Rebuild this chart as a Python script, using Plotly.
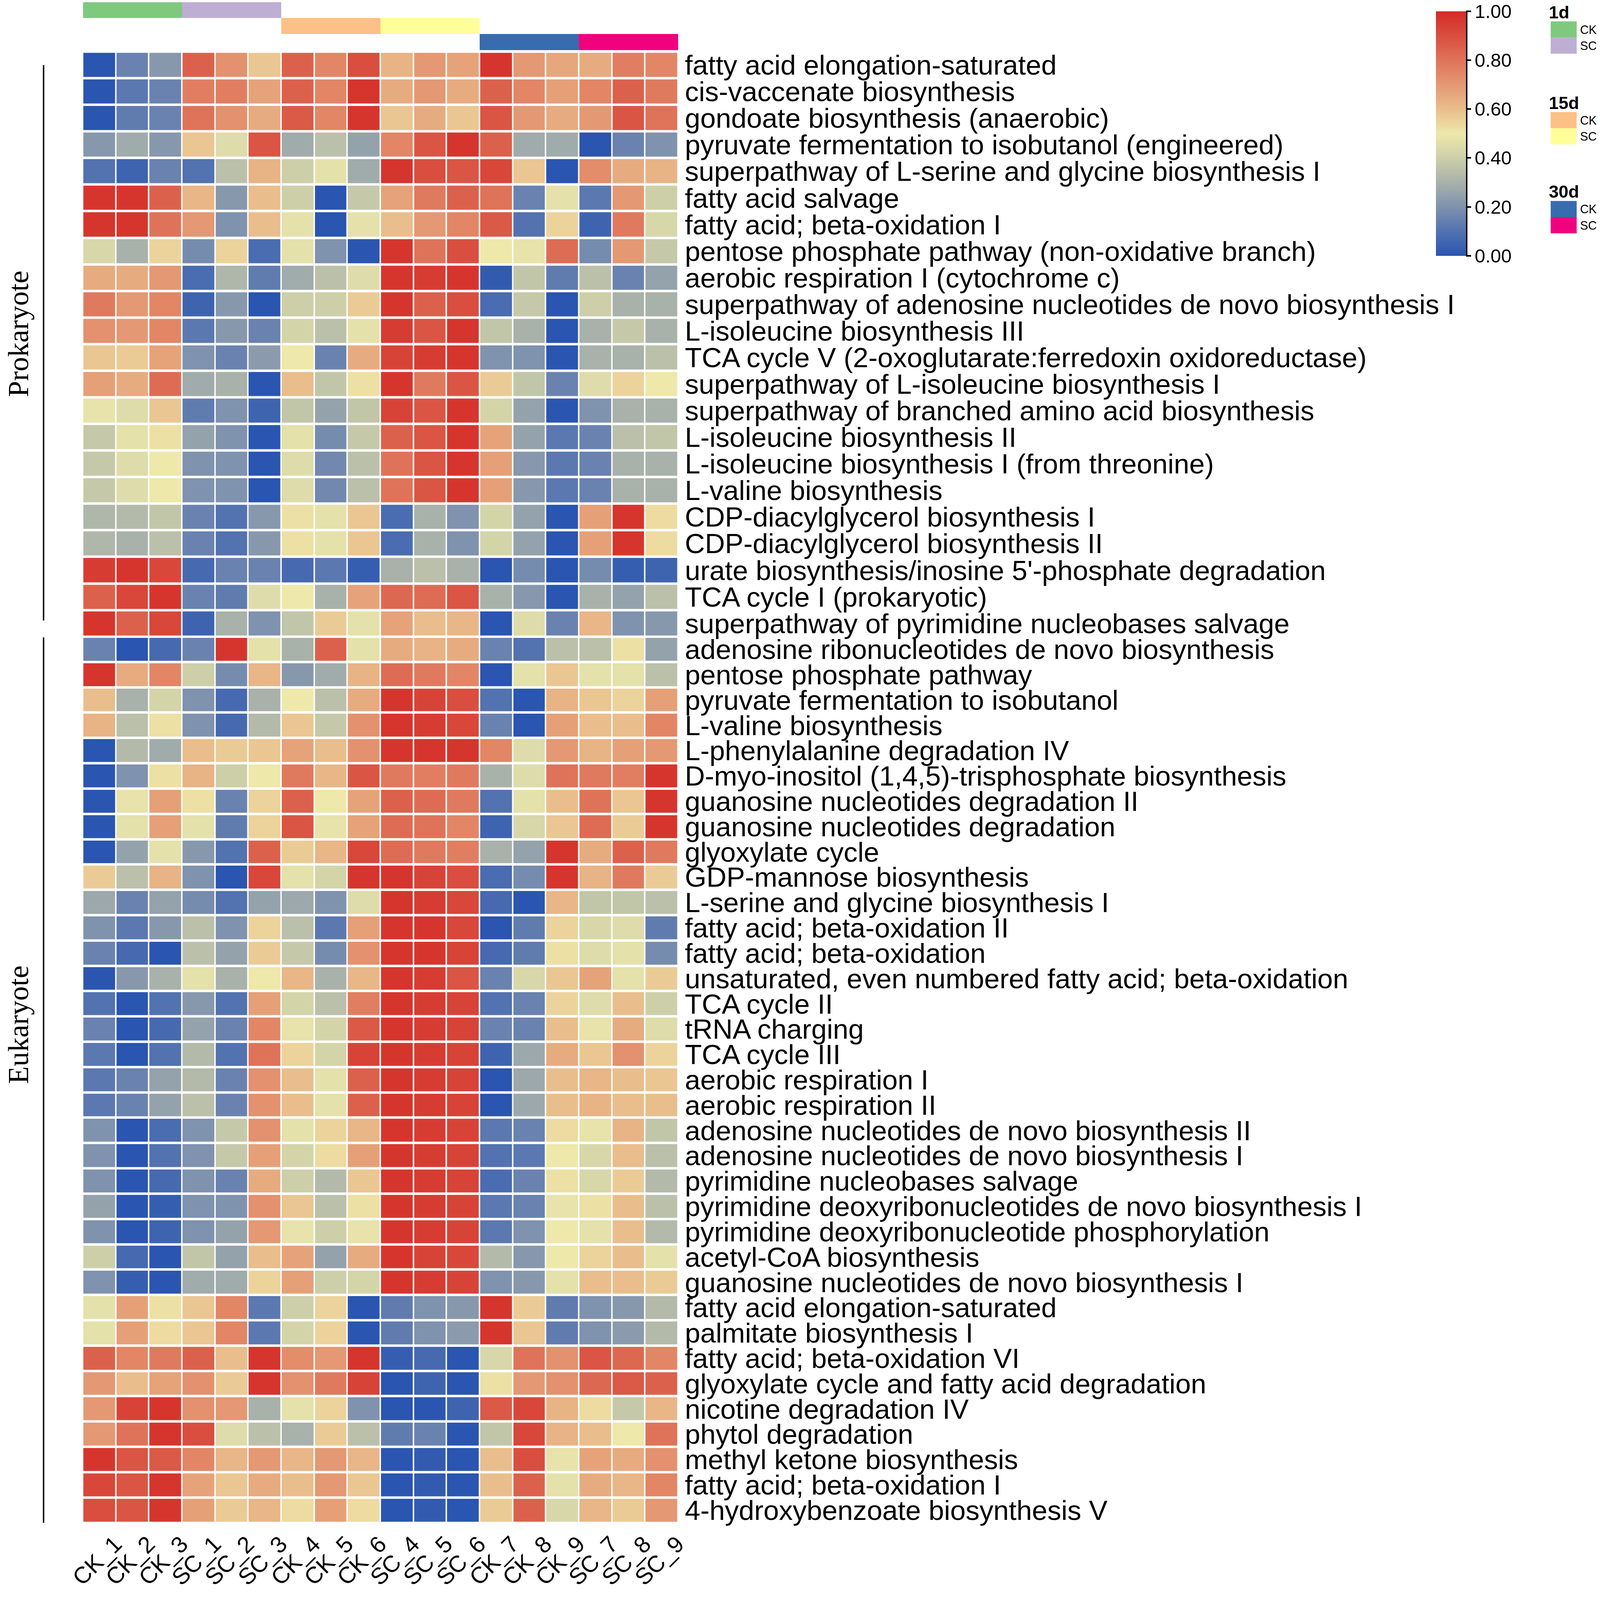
import plotly.graph_objects as go

# ---------------- data ----------------
samples = ["CK_1", "CK_2", "CK_3", "SC_1", "SC_2", "SC_3",
           "CK_4", "CK_5", "CK_6", "SC_4", "SC_5", "SC_6",
           "CK_7", "CK_8", "CK_9", "SC_7", "SC_8", "SC_9"]

prok_pathways = [
    "fatty acid elongation-saturated",
    "cis-vaccenate biosynthesis",
    "gondoate biosynthesis (anaerobic)",
    "pyruvate fermentation to isobutanol (engineered)",
    "superpathway of L-serine and glycine biosynthesis I",
    "fatty acid salvage",
    "fatty acid; beta-oxidation I",
    "pentose phosphate pathway (non-oxidative branch)",
    "aerobic respiration I (cytochrome c)",
    "superpathway of adenosine nucleotides de novo biosynthesis I",
    "L-isoleucine biosynthesis III",
    "TCA cycle V (2-oxoglutarate:ferredoxin oxidoreductase)",
    "superpathway of L-isoleucine biosynthesis I",
    "superpathway of branched amino acid biosynthesis",
    "L-isoleucine biosynthesis II",
    "L-isoleucine biosynthesis I (from threonine)",
    "L-valine biosynthesis",
    "CDP-diacylglycerol biosynthesis I",
    "CDP-diacylglycerol biosynthesis II",
    "urate biosynthesis/inosine 5'-phosphate degradation",
    "TCA cycle I (prokaryotic)",
    "superpathway of pyrimidine nucleobases salvage",
]

prok_values = [
    [0.00, 0.15, 0.22, 0.85, 0.72, 0.58, 0.85, 0.75, 0.90, 0.63, 0.70, 0.67, 0.97, 0.70, 0.66, 0.65, 0.77, 0.75],
    [0.00, 0.12, 0.15, 0.77, 0.77, 0.67, 0.85, 0.75, 0.97, 0.65, 0.70, 0.65, 0.85, 0.75, 0.68, 0.75, 0.85, 0.78],
    [0.00, 0.13, 0.15, 0.80, 0.72, 0.65, 0.87, 0.75, 0.97, 0.58, 0.65, 0.58, 0.88, 0.70, 0.65, 0.70, 0.88, 0.80],
    [0.22, 0.28, 0.22, 0.58, 0.45, 0.88, 0.28, 0.35, 0.25, 0.75, 0.88, 0.97, 0.85, 0.28, 0.28, 0.00, 0.15, 0.20],
    [0.10, 0.05, 0.15, 0.10, 0.35, 0.63, 0.40, 0.47, 0.28, 0.97, 0.90, 0.88, 0.92, 0.58, 0.00, 0.73, 0.65, 0.63],
    [0.97, 0.97, 0.85, 0.62, 0.22, 0.60, 0.40, 0.00, 0.38, 0.67, 0.78, 0.85, 0.80, 0.15, 0.47, 0.12, 0.70, 0.40],
    [0.97, 0.97, 0.80, 0.70, 0.20, 0.60, 0.47, 0.00, 0.47, 0.60, 0.70, 0.75, 0.87, 0.10, 0.55, 0.05, 0.78, 0.43],
    [0.43, 0.30, 0.55, 0.18, 0.55, 0.08, 0.47, 0.20, 0.00, 0.97, 0.80, 0.90, 0.50, 0.48, 0.82, 0.18, 0.70, 0.38],
    [0.65, 0.65, 0.70, 0.08, 0.32, 0.13, 0.28, 0.35, 0.45, 0.97, 0.95, 0.97, 0.02, 0.37, 0.13, 0.35, 0.15, 0.25],
    [0.78, 0.70, 0.75, 0.05, 0.22, 0.00, 0.40, 0.40, 0.57, 0.97, 0.85, 0.90, 0.08, 0.38, 0.00, 0.40, 0.30, 0.30],
    [0.72, 0.70, 0.75, 0.12, 0.22, 0.15, 0.42, 0.35, 0.47, 0.95, 0.88, 0.97, 0.37, 0.30, 0.00, 0.30, 0.38, 0.30],
    [0.58, 0.57, 0.67, 0.20, 0.15, 0.23, 0.50, 0.15, 0.65, 0.93, 0.95, 0.97, 0.20, 0.20, 0.00, 0.30, 0.30, 0.35],
    [0.68, 0.65, 0.82, 0.28, 0.30, 0.00, 0.60, 0.37, 0.52, 0.97, 0.78, 0.88, 0.57, 0.37, 0.15, 0.45, 0.55, 0.50],
    [0.48, 0.45, 0.58, 0.13, 0.20, 0.05, 0.37, 0.25, 0.37, 0.93, 0.88, 0.97, 0.42, 0.25, 0.00, 0.20, 0.30, 0.30],
    [0.38, 0.47, 0.52, 0.25, 0.20, 0.00, 0.47, 0.18, 0.38, 0.85, 0.88, 0.97, 0.67, 0.25, 0.12, 0.15, 0.35, 0.37],
    [0.38, 0.45, 0.50, 0.20, 0.20, 0.00, 0.45, 0.17, 0.35, 0.80, 0.88, 0.97, 0.68, 0.22, 0.12, 0.15, 0.30, 0.30],
    [0.38, 0.45, 0.50, 0.20, 0.20, 0.00, 0.45, 0.17, 0.35, 0.80, 0.88, 0.97, 0.68, 0.22, 0.12, 0.15, 0.30, 0.30],
    [0.32, 0.33, 0.37, 0.15, 0.10, 0.22, 0.52, 0.47, 0.58, 0.08, 0.30, 0.20, 0.42, 0.25, 0.00, 0.68, 0.97, 0.53],
    [0.32, 0.30, 0.35, 0.15, 0.10, 0.22, 0.52, 0.47, 0.58, 0.08, 0.30, 0.20, 0.42, 0.25, 0.00, 0.68, 0.97, 0.53],
    [0.95, 0.97, 0.92, 0.07, 0.15, 0.15, 0.07, 0.12, 0.03, 0.30, 0.35, 0.30, 0.00, 0.18, 0.00, 0.18, 0.03, 0.05],
    [0.85, 0.92, 0.97, 0.15, 0.13, 0.45, 0.50, 0.30, 0.67, 0.83, 0.82, 0.88, 0.30, 0.22, 0.00, 0.30, 0.25, 0.35],
    [0.97, 0.85, 0.92, 0.05, 0.30, 0.20, 0.37, 0.57, 0.47, 0.67, 0.60, 0.62, 0.00, 0.45, 0.15, 0.62, 0.20, 0.22],
]

euk_pathways = [
    "adenosine ribonucleotides de novo biosynthesis",
    "pentose phosphate pathway",
    "pyruvate fermentation to isobutanol",
    "L-valine biosynthesis",
    "L-phenylalanine degradation IV",
    "D-myo-inositol (1,4,5)-trisphosphate biosynthesis",
    "guanosine nucleotides degradation II",
    "guanosine nucleotides degradation",
    "glyoxylate cycle",
    "GDP-mannose biosynthesis",
    "L-serine and glycine biosynthesis I",
    "fatty acid; beta-oxidation II",
    "fatty acid; beta-oxidation",
    "unsaturated, even numbered fatty acid; beta-oxidation",
    "TCA cycle II",
    "tRNA charging",
    "TCA cycle III",
    "aerobic respiration I",
    "aerobic respiration II",
    "adenosine nucleotides de novo biosynthesis II",
    "adenosine nucleotides de novo biosynthesis I",
    "pyrimidine nucleobases salvage",
    "pyrimidine deoxyribonucleotides de novo biosynthesis I",
    "pyrimidine deoxyribonucleotide phosphorylation",
    "acetyl-CoA biosynthesis",
    "guanosine nucleotides de novo biosynthesis I",
    "fatty acid elongation-saturated",
    "palmitate biosynthesis I",
    "fatty acid; beta-oxidation VI",
    "glyoxylate cycle and fatty acid degradation",
    "nicotine degradation IV",
    "phytol degradation",
    "methyl ketone biosynthesis",
    "fatty acid; beta-oxidation I",
    "4-hydroxybenzoate biosynthesis V",
]

euk_values = [
    [0.15, 0.00, 0.07, 0.15, 0.97, 0.47, 0.30, 0.85, 0.47, 0.65, 0.63, 0.65, 0.15, 0.10, 0.35, 0.35, 0.52, 0.25],
    [0.97, 0.65, 0.75, 0.40, 0.18, 0.62, 0.22, 0.28, 0.63, 0.82, 0.78, 0.75, 0.00, 0.47, 0.58, 0.47, 0.47, 0.35],
    [0.60, 0.30, 0.42, 0.20, 0.07, 0.30, 0.50, 0.35, 0.65, 0.97, 0.93, 0.90, 0.10, 0.00, 0.63, 0.58, 0.55, 0.68],
    [0.63, 0.35, 0.52, 0.20, 0.07, 0.33, 0.58, 0.38, 0.72, 0.97, 0.95, 0.92, 0.15, 0.00, 0.68, 0.60, 0.60, 0.75],
    [0.00, 0.33, 0.28, 0.60, 0.57, 0.58, 0.67, 0.60, 0.72, 0.97, 0.97, 0.97, 0.75, 0.45, 0.70, 0.63, 0.68, 0.70],
    [0.00, 0.20, 0.52, 0.63, 0.40, 0.50, 0.78, 0.62, 0.88, 0.78, 0.77, 0.78, 0.30, 0.45, 0.80, 0.78, 0.77, 0.97],
    [0.00, 0.48, 0.68, 0.52, 0.15, 0.55, 0.85, 0.50, 0.67, 0.85, 0.82, 0.78, 0.10, 0.47, 0.60, 0.80, 0.58, 0.97],
    [0.00, 0.47, 0.68, 0.47, 0.13, 0.55, 0.88, 0.48, 0.67, 0.82, 0.80, 0.75, 0.05, 0.43, 0.58, 0.82, 0.57, 0.97],
    [0.00, 0.25, 0.47, 0.22, 0.10, 0.85, 0.57, 0.62, 0.92, 0.82, 0.78, 0.77, 0.30, 0.25, 0.97, 0.65, 0.85, 0.78],
    [0.57, 0.35, 0.63, 0.20, 0.00, 0.92, 0.47, 0.42, 0.97, 0.97, 0.93, 0.90, 0.08, 0.18, 0.97, 0.63, 0.78, 0.57],
    [0.27, 0.15, 0.25, 0.18, 0.10, 0.25, 0.27, 0.20, 0.45, 0.97, 0.95, 0.92, 0.07, 0.00, 0.62, 0.37, 0.37, 0.35],
    [0.20, 0.12, 0.22, 0.35, 0.20, 0.55, 0.35, 0.12, 0.68, 0.97, 0.97, 0.92, 0.00, 0.13, 0.55, 0.43, 0.45, 0.13],
    [0.15, 0.07, 0.00, 0.35, 0.25, 0.57, 0.38, 0.18, 0.72, 0.97, 0.97, 0.93, 0.07, 0.13, 0.52, 0.45, 0.47, 0.18],
    [0.00, 0.22, 0.30, 0.47, 0.30, 0.50, 0.62, 0.30, 0.62, 0.97, 0.95, 0.88, 0.15, 0.43, 0.58, 0.67, 0.47, 0.57],
    [0.10, 0.00, 0.10, 0.22, 0.10, 0.68, 0.42, 0.35, 0.77, 0.97, 0.95, 0.93, 0.10, 0.15, 0.55, 0.45, 0.60, 0.40],
    [0.15, 0.00, 0.07, 0.25, 0.15, 0.75, 0.48, 0.42, 0.87, 0.97, 0.95, 0.93, 0.15, 0.15, 0.60, 0.48, 0.65, 0.45],
    [0.12, 0.00, 0.10, 0.33, 0.10, 0.80, 0.55, 0.42, 0.93, 0.97, 0.95, 0.93, 0.05, 0.27, 0.65, 0.58, 0.72, 0.55],
    [0.12, 0.15, 0.25, 0.33, 0.15, 0.72, 0.60, 0.47, 0.85, 0.97, 0.95, 0.93, 0.00, 0.27, 0.60, 0.62, 0.60, 0.58],
    [0.12, 0.15, 0.25, 0.35, 0.15, 0.72, 0.60, 0.47, 0.85, 0.97, 0.95, 0.93, 0.00, 0.27, 0.60, 0.63, 0.60, 0.60],
    [0.20, 0.00, 0.08, 0.20, 0.38, 0.72, 0.47, 0.55, 0.62, 0.97, 0.95, 0.93, 0.12, 0.15, 0.53, 0.48, 0.63, 0.37],
    [0.20, 0.00, 0.10, 0.20, 0.38, 0.68, 0.42, 0.53, 0.68, 0.97, 0.95, 0.93, 0.10, 0.12, 0.50, 0.43, 0.60, 0.35],
    [0.20, 0.00, 0.07, 0.20, 0.15, 0.65, 0.40, 0.33, 0.58, 0.97, 0.95, 0.93, 0.08, 0.15, 0.52, 0.43, 0.57, 0.33],
    [0.25, 0.00, 0.03, 0.20, 0.20, 0.72, 0.58, 0.35, 0.52, 0.97, 0.95, 0.93, 0.12, 0.15, 0.48, 0.52, 0.60, 0.35],
    [0.20, 0.00, 0.05, 0.20, 0.25, 0.70, 0.48, 0.40, 0.48, 0.97, 0.95, 0.93, 0.12, 0.20, 0.50, 0.47, 0.60, 0.33],
    [0.40, 0.07, 0.00, 0.37, 0.25, 0.60, 0.67, 0.25, 0.65, 0.97, 0.93, 0.92, 0.33, 0.22, 0.50, 0.55, 0.60, 0.47],
    [0.20, 0.03, 0.00, 0.28, 0.28, 0.55, 0.68, 0.40, 0.42, 0.97, 0.95, 0.93, 0.20, 0.22, 0.47, 0.60, 0.60, 0.57],
    [0.47, 0.68, 0.52, 0.58, 0.75, 0.12, 0.40, 0.55, 0.00, 0.13, 0.20, 0.22, 0.97, 0.57, 0.13, 0.20, 0.22, 0.33],
    [0.47, 0.68, 0.53, 0.58, 0.75, 0.12, 0.42, 0.55, 0.00, 0.13, 0.20, 0.23, 0.97, 0.58, 0.13, 0.20, 0.23, 0.33],
    [0.85, 0.75, 0.78, 0.85, 0.60, 0.97, 0.73, 0.70, 0.97, 0.03, 0.07, 0.00, 0.43, 0.80, 0.72, 0.88, 0.83, 0.75],
    [0.70, 0.60, 0.67, 0.72, 0.57, 0.97, 0.72, 0.78, 0.93, 0.00, 0.05, 0.00, 0.52, 0.70, 0.72, 0.83, 0.87, 0.85],
    [0.70, 0.93, 0.97, 0.72, 0.70, 0.30, 0.47, 0.55, 0.20, 0.00, 0.00, 0.05, 0.87, 0.92, 0.63, 0.53, 0.38, 0.62],
    [0.70, 0.80, 0.97, 0.90, 0.45, 0.35, 0.30, 0.57, 0.35, 0.13, 0.15, 0.00, 0.37, 0.92, 0.63, 0.60, 0.50, 0.80],
    [0.97, 0.88, 0.87, 0.75, 0.62, 0.70, 0.62, 0.70, 0.62, 0.00, 0.02, 0.00, 0.60, 0.90, 0.48, 0.67, 0.65, 0.72],
    [0.92, 0.88, 0.97, 0.67, 0.58, 0.65, 0.60, 0.70, 0.58, 0.00, 0.02, 0.00, 0.60, 0.85, 0.47, 0.65, 0.62, 0.75],
    [0.90, 0.88, 0.97, 0.68, 0.57, 0.62, 0.53, 0.68, 0.53, 0.00, 0.02, 0.00, 0.57, 0.85, 0.43, 0.62, 0.57, 0.70],
]

# sample annotation: group index per column for each time-point row (None = blank)
time_points = ["1d", "15d", "30d"]
annot_groups = [
    [0, 0, 0, 1, 1, 1] + [None] * 12,
    [None] * 6 + [2, 2, 2, 3, 3, 3] + [None] * 6,
    [None] * 12 + [4, 4, 4, 5, 5, 5],
]
group_labels = ["CK", "SC", "CK", "SC", "CK", "SC"]
colorbar_ticks = [0.0, 0.2, 0.4, 0.6, 0.8, 1.0]

# ---------------- styles ----------------
group_colors = ["#7FC97F", "#BEAED4", "#FDC086", "#FFFF99", "#386CB0", "#F0027F"]
heat_colors = [
    [0.00, "#2A55B0"], [0.10, "#5272B0"], [0.20, "#7F92AE"], [0.30, "#A8B1AA"],
    [0.40, "#CDCFA9"], [0.50, "#EEE8AA"], [0.60, "#E9BE8C"], [0.70, "#E49873"],
    [0.80, "#DF7359"], [0.90, "#D94E3F"], [1.00, "#D42A27"],
]

# reference geometry is 4550 x 4527; the page is rendered with a ~1.11 device
# scale, so the figure is laid out in CSS pixels scaled by S
RW, RH = 4550, 4527
S = 0.8995
W, H = round(RW * S), round(RH * S)

def fx(p):
    return p / RW
def fy(p):
    return 1 - p / RH
def px(v):
    return v * S
def ipx(v):
    return int(round(v * S))

LEFT, RIGHT = 236, 1930
ANN_TOP, ANN_BOT = 6, 143
PROK_TOP, SPLIT, EUK_BOT = 147, 1812, 4334

annot_scale = []
n = len(group_colors)
for i, c in enumerate(group_colors):
    annot_scale.append([i / n, c])
    annot_scale.append([(i + 1) / n, c])

SANS = "Liberation Sans, Arial"

fig = go.Figure()

fig.add_trace(go.Heatmap(
    z=annot_groups, x=samples, y=list(range(len(time_points))),
    colorscale=annot_scale, zmin=-0.5, zmax=len(group_colors) - 0.5,
    showscale=False, xaxis="x", yaxis="y3", hoverinfo="skip",
))

fig.add_trace(go.Heatmap(
    z=prok_values, x=samples, y=list(range(len(prok_pathways))),
    colorscale=heat_colors, zmin=0, zmax=1, xgap=px(4), ygap=px(7),
    xaxis="x", yaxis="y",
    showscale=True,
    colorbar=dict(
        x=fx(4086), xanchor="left", xref="paper", xpad=0,
        y=fy(32), yanchor="top", ypad=0,
        len=px(696), lenmode="pixels", thickness=px(86), thicknessmode="pixels",
        outlinewidth=0, ticks="outside", ticklen=ipx(14), tickwidth=px(4), tickcolor="black",
        tickvals=colorbar_ticks, ticktext=[f"{v:.2f}" for v in colorbar_ticks],
        tickfont=dict(family=SANS, size=px(54), color="black"),
    ),
))

fig.add_trace(go.Heatmap(
    z=euk_values, x=samples, y=list(range(len(euk_pathways))),
    colorscale=heat_colors, zmin=0, zmax=1, xgap=px(4), ygap=px(7),
    xaxis="x", yaxis="y2", showscale=False,
))

label_font = dict(family=SANS, size=px(79), color="black")

fig.update_layout(
    width=W, height=H,
    margin=dict(l=0, r=0, t=0, b=0),
    paper_bgcolor="white", plot_bgcolor="white",
    xaxis=dict(domain=[fx(LEFT), fx(RIGHT)], anchor="y2", side="bottom",
               tickangle=-45, ticks="", showgrid=False, zeroline=False, showline=False,
               tickfont=dict(family=SANS, size=px(66), color="black"),
               ticklabelshift=ipx(45), ticklabelstandoff=ipx(8), automargin=False),
    yaxis=dict(domain=[fy(SPLIT), fy(PROK_TOP)], anchor="x", side="right",
               autorange="reversed", tickvals=list(range(len(prok_pathways))),
               ticktext=prok_pathways, ticks="", showgrid=False, zeroline=False,
               tickfont=label_font, ticklabelstandoff=ipx(18), automargin=False),
    yaxis2=dict(domain=[fy(EUK_BOT), fy(SPLIT)], anchor="x", side="right",
                autorange="reversed", tickvals=list(range(len(euk_pathways))),
                ticktext=euk_pathways, ticks="", showgrid=False, zeroline=False,
                tickfont=label_font, ticklabelstandoff=ipx(18), automargin=False),
    yaxis3=dict(domain=[fy(ANN_BOT), fy(ANN_TOP)], anchor="x", autorange="reversed",
                showticklabels=False, ticks="", showgrid=False, zeroline=False),
)

shapes = []
annotations = []

# colorbar axis line
shapes.append(dict(type="line", xref="paper", yref="paper",
                   x0=fx(4174), x1=fx(4174), y0=fy(32), y1=fy(728),
                   line=dict(color="black", width=px(4))))

# left group brackets
shapes.append(dict(type="line", xref="paper", yref="paper",
                   x0=fx(124), x1=fx(124), y0=fy(185), y1=fy(1766),
                   line=dict(color="black", width=px(4))))
shapes.append(dict(type="line", xref="paper", yref="paper",
                   x0=fx(124), x1=fx(124), y0=fy(1814), y1=fy(4334),
                   line=dict(color="black", width=px(4))))
serif = dict(family="Liberation Serif, Times New Roman", size=px(82), color="black")
annotations.append(dict(text="Prokaryote", xref="paper", yref="paper",
                        x=fx(52), y=fy(950), xanchor="center", yanchor="middle",
                        showarrow=False, textangle=-90, font=serif))
annotations.append(dict(text="Eukaryote", xref="paper", yref="paper",
                        x=fx(52), y=fy(2916), xanchor="center", yanchor="middle",
                        showarrow=False, textangle=-90, font=serif))

# annotation legend
legend_tops = [10, 268, 521]
for gi, tp in enumerate(time_points):
    top = legend_tops[gi]
    annotations.append(dict(text=f"<b>{tp}</b>", xref="paper", yref="paper",
                            x=fx(4406), y=fy(top - 6), xanchor="left", yanchor="top",
                            showarrow=False,
                            font=dict(family=SANS, size=px(50), color="black")))
    for k in range(2):
        idx = gi * 2 + k
        y0 = top + 51 + k * 46
        shapes.append(dict(type="rect", xref="paper", yref="paper",
                           x0=fx(4413), x1=fx(4487), y0=fy(y0), y1=fy(y0 + 46),
                           fillcolor=group_colors[idx], line=dict(width=0)))
        annotations.append(dict(text=group_labels[idx], xref="paper", yref="paper",
                                x=fx(4494), y=fy(y0 + 23), xanchor="left", yanchor="middle",
                                showarrow=False,
                                font=dict(family=SANS, size=px(34), color="black")))

fig.update_layout(shapes=shapes, annotations=annotations)

fig.write_html("out.html",
               config={"displayModeBar": False},
               post_script="document.body.style.margin='0px';document.body.style.overflow='hidden';")
